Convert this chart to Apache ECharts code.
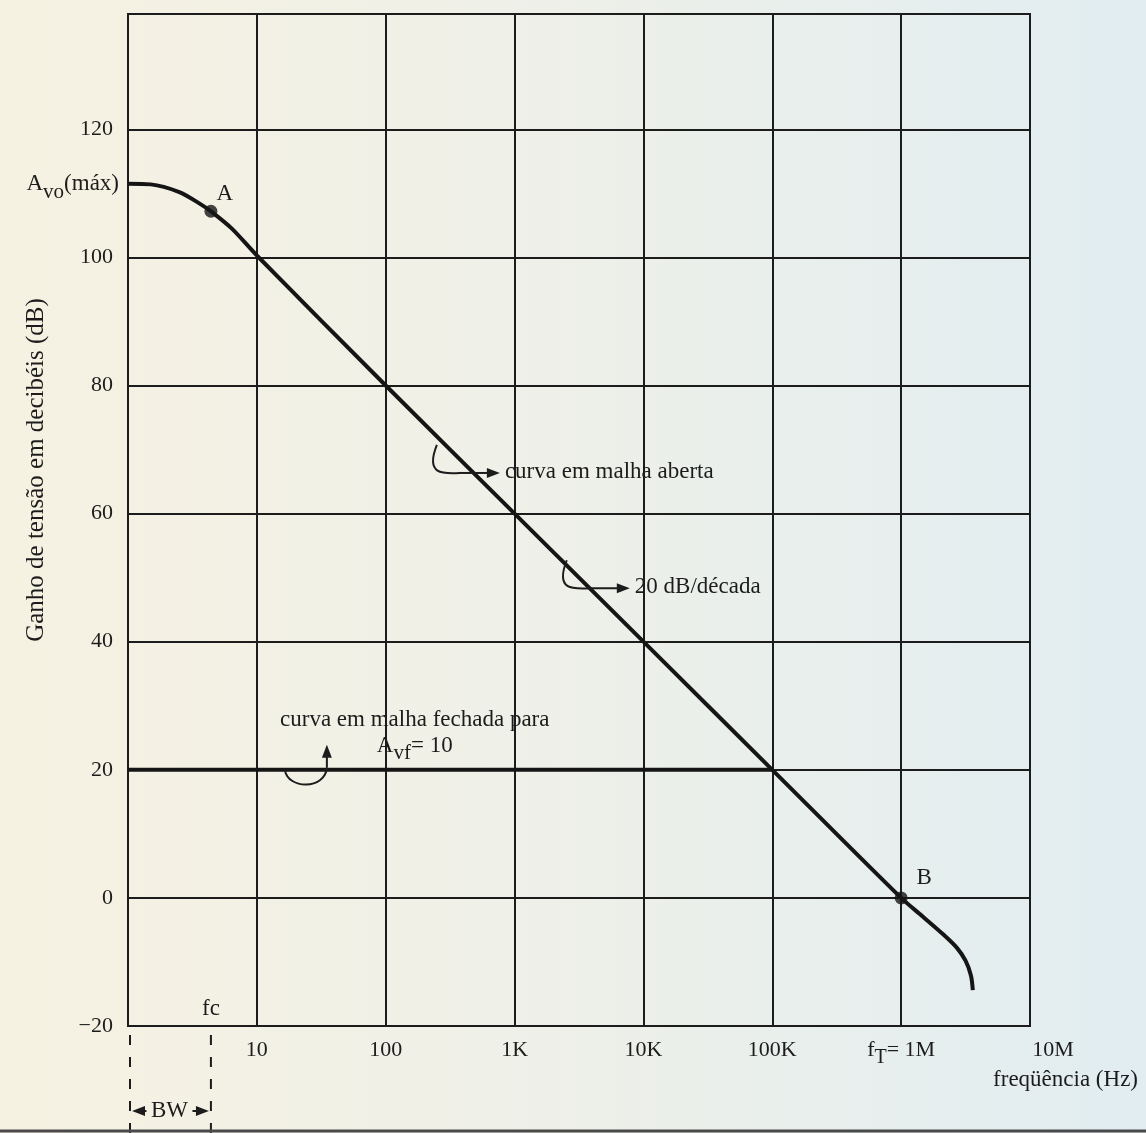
<!DOCTYPE html>
<html>
<head>
<meta charset="utf-8">
<title>Ganho x frequencia</title>
<script src="https://cdn.jsdelivr.net/npm/echarts@6.0.0/dist/echarts.min.js"></script>
<style>
html, body { margin: 0; padding: 0; }
#main { width: 1146px; height: 1133px; }
</style>
</head>
<body>
<div id="main"></div>
<script type="text/javascript">
// dados (frequencia em Hz, ganho em dB)
var freqOpen = [1, 1.5, 2.5, 3.6, 4.4, 6.4, 10, 100, 1e3, 1e4, 1e5, 1e6, 1.47e6, 2.15e6, 2.71e6, 3.16e6, 3.48e6, 3.6e6];
var gainOpen = [111.5, 111.4, 110.2, 108.4, 107.2, 104.5, 100.3, 80, 60, 40, 20, 0, -2.9, -5.8, -7.8, -9.8, -12.1, -14.4];
var freqClosed = [1, 1e5];
var gainClosed = [20, 20];
var pointA = [4.4, 107.2];
var pointB = [1e6, 0];
var avoMax = 111.5;
var fc = 4.4;

var xTickValues = [1, 10, 100, 1e3, 1e4, 1e5, 1e6, 1e7];
var xTickNames = ['', '10', '100', '1K', '10K', '100K', '{t|f}{s|T}{t|= 1M}', '{r|10M}'];
var yTickValues = [-20, 0, 20, 40, 60, 80, 100, 120];

var ink = '#1c1c1c';
var serif = '"Liberation Serif", "DejaVu Serif", serif';

function pairs(xs, ys) {
    var out = [];
    for (var i = 0; i < xs.length; i++) out.push([xs[i], ys[i]]);
    return out;
}

var option = {
    backgroundColor: {
        type: 'linear', x: 0, y: 0, x2: 1, y2: 0,
        colorStops: [
            {offset: 0, color: '#f6f2e2'},
            {offset: 0.45, color: '#eff0e8'},
            {offset: 1, color: '#e1edf1'}
        ]
    },
    animation: false,
    grid: {
        left: 128, right: 116, top: 14, bottom: 107,
        show: true, borderColor: ink, borderWidth: 2
    },
    xAxis: {
        type: 'log',
        logBase: 10,
        min: 1,
        max: 1e7,
        axisLine: {show: true, lineStyle: {color: ink, width: 2}},
        axisTick: {show: false},
        splitLine: {show: true, lineStyle: {color: ink, width: 2}},
        axisLabel: {
            margin: 13,
            color: ink,
            fontFamily: serif,
            fontSize: 22,
            formatter: function (v) {
                var i = Math.round(Math.log(v) / Math.LN10);
                return xTickNames[i] || '';
            },
            rich: {
                t: {fontFamily: serif, fontSize: 22, color: ink, verticalAlign: 'top'},
                s: {fontFamily: serif, fontSize: 20, color: ink, verticalAlign: 'top', padding: [9, 0, 0, 0]},
                r: {fontFamily: serif, fontSize: 22, color: ink, padding: [0, 0, 0, 46]}
            }
        }
    },
    yAxis: {
        type: 'value',
        min: -20,
        max: 138,
        interval: 20,
        axisLine: {show: true, lineStyle: {color: ink, width: 2}},
        axisTick: {show: false},
        splitLine: {show: true, lineStyle: {color: ink, width: 2}},
        axisLabel: {
            margin: 15,
            color: ink,
            fontFamily: serif,
            fontSize: 22,
            formatter: function (v) {
                if (yTickValues.indexOf(v) < 0) return '';
                return v < 0 ? '\u2212' + Math.abs(v) : String(v);
            }
        }
    },
    series: [
        {
            name: 'malha aberta',
            type: 'line',
            data: pairs(freqOpen, gainOpen),
            smooth: 0.3,
            symbol: 'none',
            lineStyle: {color: '#151515', width: 4}
        },
        {
            name: 'malha fechada',
            type: 'line',
            data: pairs(freqClosed, gainClosed),
            symbol: 'none',
            lineStyle: {color: '#151515', width: 4}
        },
        {
            name: 'pontos',
            type: 'scatter',
            data: [pointA, pointB],
            symbolSize: 13,
            itemStyle: {color: '#151515'}
        }
    ]
};

var chart = echarts.init(document.getElementById('main'));
chart.setOption(option);

function px(f, db) {
    return chart.convertToPixel({gridIndex: 0}, [f, db]);
}

function txt(x, y, text, align, size, rich) {
    return {
        type: 'text', x: x, y: y, z: 10,
        style: {
            text: text, x: 0, y: 0,
            align: align || 'left', verticalAlign: 'middle',
            fill: ink, font: (size || 23) + 'px ' + serif,
            rich: rich
        }
    };
}

function arrowHead(x, y, dir) {
    var pts;
    if (dir === 'right') pts = [[x, y], [x - 13, y - 5], [x - 13, y + 5]];
    else if (dir === 'left') pts = [[x, y], [x + 13, y - 5], [x + 13, y + 5]];
    else pts = [[x, y], [x - 5, y + 13], [x + 5, y + 13]];
    return {type: 'polygon', z: 10, shape: {points: pts}, style: {fill: ink}};
}

function hookRight(tx, ty) {
    // gancho que sai da curva e aponta para o texto
    return [
        {type: 'bezierCurve', z: 10,
         shape: {x1: tx - 68, y1: ty - 27, cpx1: tx - 80, cpy1: ty + 3, cpx2: tx - 62, cpy2: ty + 2, x2: tx - 45, y2: ty + 1},
         style: {stroke: ink, lineWidth: 2, fill: null}},
        {type: 'line', z: 10, shape: {x1: tx - 46, y1: ty + 1, x2: tx - 16, y2: ty + 1}, style: {stroke: ink, lineWidth: 2}},
        arrowHead(tx - 5, ty + 1, 'right')
    ];
}

var sub = {
    b: {fontFamily: serif, fontSize: 23, color: ink, verticalAlign: 'top'},
    s: {fontFamily: serif, fontSize: 21, color: ink, verticalAlign: 'top', padding: [9, 0, 0, 0]}
};

var g = [];
var pA = px(pointA[0], pointA[1]);
var pB = px(pointB[0], pointB[1]);
g.push(txt(pA[0] + 14, pA[1] - 17, 'A', 'center'));
g.push(txt(pB[0] + 23, pB[1] - 20, 'B', 'center'));

var pAvo = px(1, avoMax);
g.push(txt(pAvo[0] - 9, pAvo[1] + 4, '{b|A}{s|vo}{b|(máx)}', 'right', 23, sub));

var t1 = px(841, 66.5);
g.push(txt(t1[0], t1[1], 'curva em malha aberta'));
g = g.concat(hookRight(t1[0], t1[1]));

var t2 = px(8570, 48.5);
g.push(txt(t2[0], t2[1], '20 dB/década'));
g = g.concat(hookRight(t2[0], t2[1]));

var t3 = px(168, 27.8);
g.push(txt(t3[0], t3[1], 'curva em malha fechada para', 'center'));
var t4 = px(168, 23.2);
g.push(txt(t4[0], t4[1], '{b|A}{s|vf}{b|= 10}', 'center', 23, sub));
var h = px(16.5, 20);
g.push({type: 'bezierCurve', z: 10,
        shape: {x1: h[0], y1: h[1], cpx1: h[0] + 3, cpy1: h[1] + 20, cpx2: h[0] + 40, cpy2: h[1] + 20, x2: h[0] + 42, y2: h[1] - 2},
        style: {stroke: ink, lineWidth: 2, fill: null}});
g.push({type: 'line', z: 10, shape: {x1: h[0] + 42, y1: h[1] - 2, x2: h[0] + 42, y2: h[1] - 14}, style: {stroke: ink, lineWidth: 2}});
g.push(arrowHead(h[0] + 42, h[1] - 25, 'up'));

// fc e BW abaixo do eixo
var pf = px(fc, -20);
var p1 = px(1, -20);
g.push(txt(pf[0], pf[1] - 17, 'fc', 'center'));
[p1[0] + 2, pf[0]].forEach(function (x) {
    g.push({type: 'line', z: 10, shape: {x1: x, y1: pf[1] + 9, x2: x, y2: 1133},
            style: {stroke: ink, lineWidth: 2, lineDash: [10, 12]}});
});
var bwMid = (p1[0] + pf[0]) / 2;
g.push(txt(bwMid, pf[1] + 85, 'BW', 'center'));
g.push({type: 'line', z: 10, shape: {x1: bwMid - 23, y1: pf[1] + 85, x2: p1[0] + 12, y2: pf[1] + 85}, style: {stroke: ink, lineWidth: 2}});
g.push(arrowHead(p1[0] + 4, pf[1] + 85, 'left'));
g.push({type: 'line', z: 10, shape: {x1: bwMid + 23, y1: pf[1] + 85, x2: pf[0] - 10, y2: pf[1] + 85}, style: {stroke: ink, lineWidth: 2}});
g.push(arrowHead(pf[0] - 2, pf[1] + 85, 'right'));

// titulos dos eixos
g.push(txt(1138, 1080, 'freqüência (Hz)', 'right', 23));
g.push({type: 'text', x: 36, y: 470, rotation: Math.PI / 2, z: 10,
        style: {text: 'Ganho de tensão em decibéis (dB)', x: 0, y: 0, align: 'center', verticalAlign: 'middle',
                fill: ink, font: '25px ' + serif}});

g.push({type: 'line', z: 10, shape: {x1: 0, y1: 1131, x2: 1146, y2: 1131}, style: {stroke: '#4a4a4a', lineWidth: 3}});

chart.setOption({graphic: g});
</script>
</body>
</html>
